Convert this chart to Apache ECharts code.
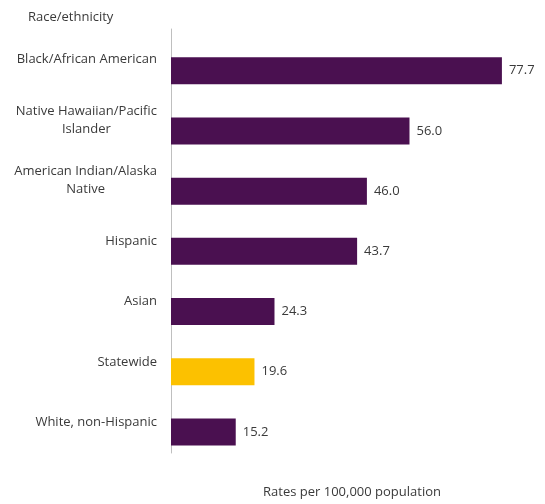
<!DOCTYPE html>
<html>
<head>
<meta charset="utf-8">
<script src="https://cdn.jsdelivr.net/npm/echarts@6/dist/echarts.min.js"></script>
<style>
  html, body { margin: 0; padding: 0; background: #fff; }
  #chart { width: 545px; height: 504px; }
</style>
</head>
<body>
<div id="chart"></div>
<script>
// Rates per 100,000 population by race/ethnicity
const categories = [
  'Black/African American',
  'Native Hawaiian/Pacific\nIslander',
  'American Indian/Alaska\nNative',
  'Hispanic',
  'Asian',
  'Statewide',
  'White, non-Hispanic'
];
const rates = [77.7, 56.0, 46.0, 43.7, 24.3, 19.6, 15.2];
const highlight = 'Statewide';

const purple = '#4a1050';
const gold = '#fcc100';
const textColor = '#3a3a3a';
const font = '"Open Sans", sans-serif';

const chart = echarts.init(document.getElementById('chart'), null, { renderer: 'canvas' });

chart.setOption({
  animation: false,
  backgroundColor: '#fff',
  title: {
    text: 'Race/ethnicity',
    left: 28,
    top: 11,
    padding: 0,
    textStyle: { fontFamily: font, fontSize: 13, fontWeight: 'normal', color: textColor }
  },
  grid: [
    // bars
    { left: 171, right: 12, top: 40.7, bottom: 38.7 },
    // category labels and axis line
    { left: 171, right: 12, top: 29, bottom: 51 }
  ],
  xAxis: [
    {
      gridIndex: 0,
      type: 'value',
      min: 0,
      max: 85,
      axisLine: { show: false },
      axisTick: { show: false },
      axisLabel: { show: false },
      splitLine: { show: false },
      name: 'Rates per 100,000 population',
      nameLocation: 'middle',
      nameGap: 24,
      nameTextStyle: { fontFamily: font, fontSize: 13, color: textColor }
    },
    {
      gridIndex: 1,
      type: 'value',
      min: 0,
      max: 85,
      show: false
    }
  ],
  yAxis: [
    {
      gridIndex: 0,
      type: 'category',
      data: categories,
      inverse: true,
      show: false
    },
    {
      gridIndex: 1,
      type: 'category',
      data: categories,
      inverse: true,
      axisLine: { show: true, lineStyle: { color: '#bfbfbf', width: 1 } },
      axisTick: { show: false },
      axisLabel: {
        margin: 14,
        align: 'right',
        color: textColor,
        fontFamily: font,
        fontSize: 13,
        lineHeight: 18,
        formatter: function (v) {
          return v.split('\n').map(function (l) { return '{c|' + l + '}'; }).join('\n');
        },
        rich: {
          c: { align: 'center', fontFamily: font, fontSize: 13, lineHeight: 18, color: textColor }
        }
      }
    }
  ],
  series: [
    {
      type: 'bar',
      xAxisIndex: 0,
      yAxisIndex: 0,
      barWidth: 27,
      data: rates.map(function (v, i) {
        return {
          value: v,
          itemStyle: { color: categories[i] === highlight ? gold : purple }
        };
      }),
      label: {
        show: true,
        position: 'right',
        distance: 7,
        formatter: function (p) { return p.value.toFixed(1); },
        fontFamily: font,
        fontSize: 13,
        color: textColor
      }
    }
  ]
});
</script>
</body>
</html>
